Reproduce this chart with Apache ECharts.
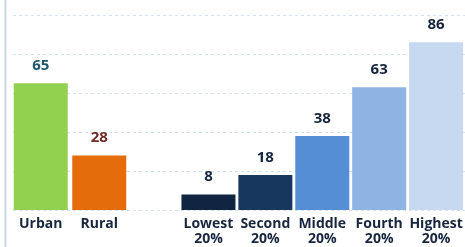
<!DOCTYPE html>
<html><head><meta charset="utf-8">
<script src="https://cdn.jsdelivr.net/npm/echarts@6/dist/echarts.min.js"></script>
<style>html,body{margin:0;padding:0;background:#fff}#c{width:465px;height:247px}</style>
</head><body><div id="c"></div>
<script>
const areaCategories = ['Urban', 'Rural'];
const areaValues = [65, 28];
const wealthCategories = ['Lowest\n20%', 'Second\n20%', 'Middle\n20%', 'Fourth\n20%', 'Highest\n20%'];
const wealthValues = [8, 18, 38, 63, 86];
const yTicks = [0, 20, 40, 60, 80, 100];

const areaColors = ['#92d050', '#e46c0a'];
const areaLabelColors = ['#215968', '#722a24'];
const wealthColors = ['#10253f', '#17375e', '#558ed5', '#8eb4e3', '#c6d9f1'];
const wealthLabelColor = '#15253f';
const FONT = 'Open Sans';

const chart = echarts.init(document.getElementById('c'));
const catAxis = (gi, data) => ({
  type: 'category', gridIndex: gi, data: data,
  axisLine: {show: false}, axisTick: {show: false},
  axisLabel: {margin: 7, color: '#17263f', fontFamily: FONT, fontWeight: 'bold', fontSize: 14, lineHeight: 15, interval: 0}
});
const hiddenY = gi => ({type: 'value', gridIndex: gi, min: 0, max: 100, interval: 20, show: false});
const labelCfg = {show: true, position: 'top', distance: 10, fontFamily: FONT, fontWeight: 'bold', fontSize: 15};

chart.setOption({
  animation: false,
  graphic: [{type: 'rect', shape: {x: 4.5, y: 0, width: 2, height: 247}, style: {fill: '#c9d8ec'}, silent: true}],
  grid: [
    {left: 13, right: 0, top: 15, bottom: 37},
    {left: 11.5, width: 117, top: 15, bottom: 37},
    {left: 180, width: 292.5, top: 15, bottom: 37}
  ],
  xAxis: [
    {type: 'value', gridIndex: 0, show: false},
    catAxis(1, areaCategories),
    catAxis(2, wealthCategories)
  ],
  yAxis: [
    {type: 'value', gridIndex: 0, min: yTicks[0], max: yTicks[yTicks.length - 1], interval: 20,
     axisLine: {show: false}, axisTick: {show: false}, axisLabel: {show: false},
     splitLine: {show: true, lineStyle: {color: '#d5e1ef', width: 1, type: [3, 3]}}},
    hiddenY(1), hiddenY(2)
  ],
  series: [
    {type: 'bar', xAxisIndex: 1, yAxisIndex: 1, barWidth: 54,
     data: areaValues.map((v, i) => ({value: v, itemStyle: {color: areaColors[i]}, label: {color: areaLabelColors[i]}})),
     label: labelCfg},
    {type: 'bar', xAxisIndex: 2, yAxisIndex: 2, barWidth: 54,
     data: wealthValues.map((v, i) => ({value: v, itemStyle: {color: wealthColors[i]}})),
     label: Object.assign({}, labelCfg, {color: wealthLabelColor})}
  ]
});
</script></body></html>
